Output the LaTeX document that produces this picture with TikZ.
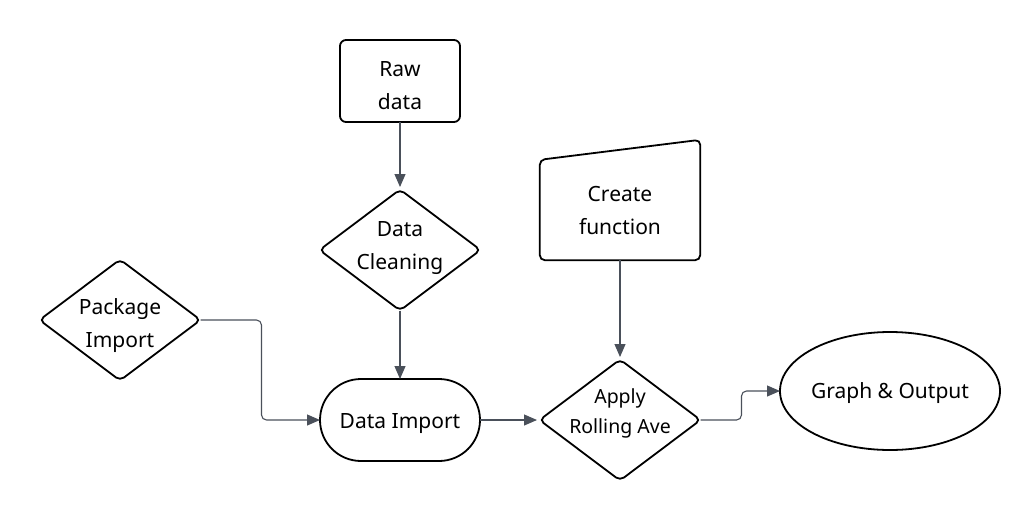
\documentclass[tikz,border=0pt]{standalone}
\usepackage{fontspec}
\setmainfont{Noto Sans}
\usetikzlibrary{shapes.geometric,arrows.meta,calc}
\definecolor{conn}{HTML}{4A505A}
\tikzset{
  txt/.style={align=center,inner sep=0pt,font=\fontsize{21}{33}\selectfont},
  shp/.style={draw=black,line width=1.8pt,inner sep=0pt,outer sep=0pt},
  recbox/.style={shp,rectangle,rounded corners=6pt,minimum width=120pt,minimum height=82pt},
  decbox/.style={shp,diamond,rounded corners=5pt,minimum width=161pt,minimum height=121pt},
  termbox/.style={shp,rectangle,rounded corners=41pt,minimum width=160pt,minimum height=82pt},
  ellbox/.style={shp,ellipse,minimum width=220pt,minimum height=118pt},
  conline/.style={draw=conn,line width=1.1pt,-{Triangle[length=13pt,width=11pt]},rounded corners=5pt}
}
\begin{document}
\begin{tikzpicture}[x=1pt,y=-1pt]
\useasboundingbox (0,0) rectangle (1020,520);
\node[recbox] (raw) at (400,81) {};
\node[txt] (rawT) at (400,86) {Raw\\data};
\node[decbox] (clean) at (400,250) {};
\node[txt] (cleanT) at (400,248) {Data\\Cleaning};
\node[decbox] (pkg) at (120,320) {};
\node[txt] (pkgT) at (120,326) {Package\\Import};
\node[termbox] (imp) at (400,420) {};
\node[txt] (impT) at (400,424) {Data Import};
\node[txt,minimum width=160pt,minimum height=100pt] (cf) at (620,210) {Create\\function};
\draw[line width=1.8pt,rounded corners=5pt] (cf.south) -- (cf.south east) -- ($(cf.north east)+(0,-20)$) -- (cf.north west) -- (cf.south west) -- cycle;
\node[decbox] (app) at (620,420) {};
\node[txt,font=\fontsize{19.5}{30}\selectfont] (appT) at (620,413) {Apply\\Rolling Ave};
\node[ellbox] (gr) at (890,391) {};
\node[txt] (grT) at (890,393) {Graph \& Output};
\draw[conline,shorten >=2.5pt] (raw.south) -- (clean.north);
\draw[conline] (clean.south) -- (imp.north);
\draw[conline] (pkg.east) -- ++(61,0) |- (imp.west);
\draw[conline,shorten >=2.5pt] (imp.east) -- (app.west);
\draw[conline,shorten >=2.5pt] (cf.south) -- (app.north);
\draw[conline] (app.east) -- ++(41,0) |- (gr.west);
\end{tikzpicture}
\end{document}
